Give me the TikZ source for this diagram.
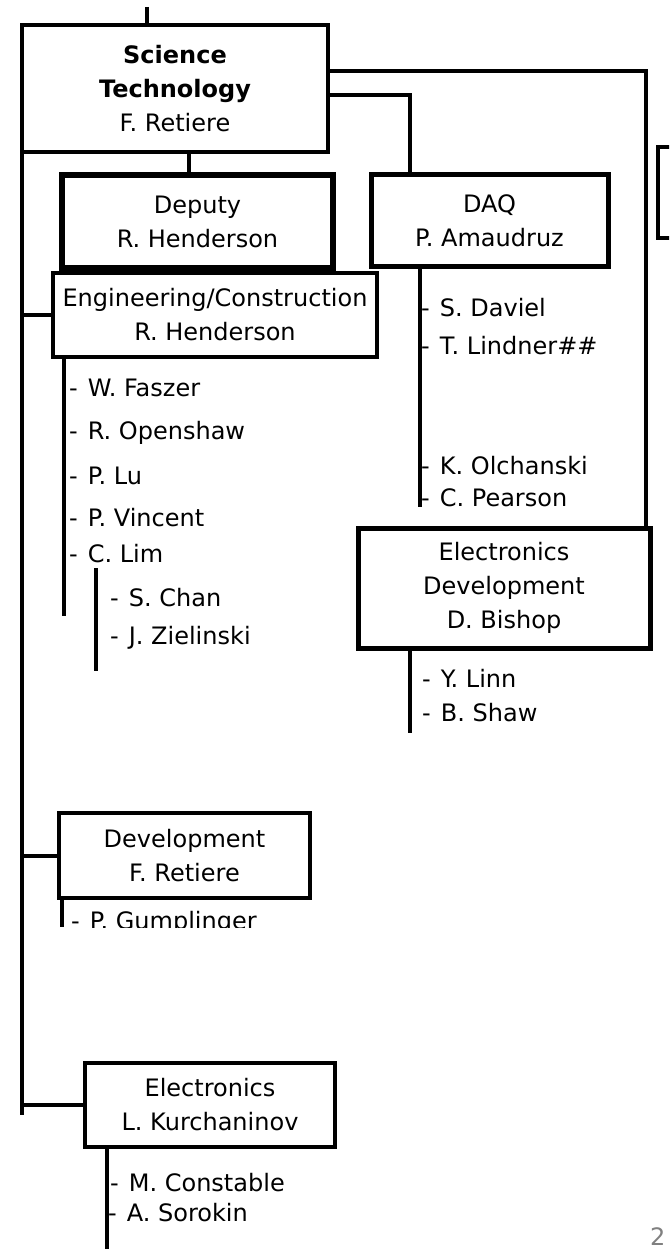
\documentclass[tikz,border=0pt]{standalone}
\usepackage{fontspec}
\setmainfont{DejaVu Sans}
\newcommand\fs{\fontsize{24}{34}\selectfont}
\newcommand\hy{-\hspace{10pt}}
\begin{document}
\begin{tikzpicture}[x=1pt,y=-1pt,
  conn/.style={line width=4pt},
  box/.style={draw, line width=4.5pt, inner sep=0pt, align=center, font=\fs},
  item/.style={anchor=base west, inner sep=0pt, font=\fs}]
\clip (0,0) rectangle (669,1249);
\fill[white] (0,0) rectangle (669,1249);

% boxes
\node[box, minimum width=306, minimum height=127] (st) at (175,88.5)
  {\textbf{Science}\\\textbf{Technology}\\F. Retiere};
\node[box, line width=5.5pt, minimum width=271, minimum height=93] (dep) at (197.5,221.5)
  {Deputy\\R. Henderson};
\node[box, line width=5pt, minimum width=237, minimum height=91] (daq) at (489.5,220.5)
  {DAQ\\P. Amaudruz};
\node[box, minimum width=324, minimum height=84] (ec) at (215,315)
  {Engineering/Construction\\R. Henderson};
\node[box, line width=5pt, minimum width=292, minimum height=120] (ed) at (504,588)
  {Electronics\\Development\\D. Bishop};
\node[box, minimum width=251, minimum height=85] (dev) at (184.5,855.5)
  {Development\\F. Retiere};
\node[box, minimum width=250, minimum height=84] (el) at (210,1105)
  {Electronics\\L. Kurchaninov};
\node[box, minimum width=60, minimum height=91] (rb) at (688,192.5) {};

% main connectors
\coordinate (top) at (147,7);
\draw[conn] (top) -- (top |- st.north);
\coordinate (trunkend) at (22,1115);
\draw[conn] (trunkend |- st.south) -- (trunkend);
\coordinate (ra) at (646,71);
\draw[conn] (ra -| st.east) -- (ra) -- (ra |- ed.north);
\coordinate (rbp) at (410,95);
\draw[conn] (rbp -| st.east) -- (rbp) -- (rbp |- daq.north);
\coordinate (dc) at (189,160);
\draw[conn] (dc |- st.south) -- (dc |- dep.north);
\draw[conn] (trunkend |- ec.west) -- (ec.west);
\draw[conn] (trunkend |- dev.west) -- (dev.west);
\draw[conn] (trunkend |- el.west) -- (el.west);

% sub lines
\coordinate (ecl) at (64,616);
\draw[conn] (ecl |- ec.south) -- (ecl);
\coordinate (limt) at (96,568);
\coordinate (limb) at (96,671);
\draw[conn] (limt) -- (limb);
\coordinate (daql) at (420,507);
\draw[conn] (daql |- daq.south) -- (daql);
\coordinate (edl) at (410,733);
\draw[conn] (edl |- ed.south) -- (edl);
\coordinate (devl) at (62,927);
\draw[conn] (devl |- dev.south) -- (devl);
\coordinate (ell) at (107,1249);
\draw[conn] (ell |- el.south) -- (ell);

% items
\node[item] (i1) at (69,396) {\hy W. Faszer};
\node[item] (i2) at (69,439) {\hy R. Openshaw};
\node[item] (i3) at (69,484) {\hy P. Lu};
\node[item] (i4) at (69,526) {\hy P. Vincent};
\node[item] (i5) at (69,562) {\hy C. Lim};
\node[item] (i6) at (110,606) {\hy S. Chan};
\node[item] (i7) at (110,644) {\hy J. Zielinski};

\node[item] (d1) at (421,316) {\hy S. Daviel};
\node[item] (d2) at (421,354) {\hy T. Lindner\#\#};
\node[item] (d3) at (421,474) {\hy K. Olchanski};
\node[item] (d4) at (421,506) {\hy C. Pearson};

\node[item] (e1) at (422,687) {\hy Y. Linn};
\node[item] (e2) at (422,721) {\hy B. Shaw};

\begin{scope}
\clip (0,0) rectangle (669,927);
\node[item] (g1) at (71,929) {\hy P. Gumplinger};
\end{scope}

\node[item] (k1) at (110,1191) {\hy M. Constable};
\node[item] (k2) at (108,1221) {\hy A. Sorokin};

\node[anchor=base west, inner sep=0pt, text=gray, font=\fs] (pg) at (650,1245) {2};
\end{tikzpicture}
\end{document}
